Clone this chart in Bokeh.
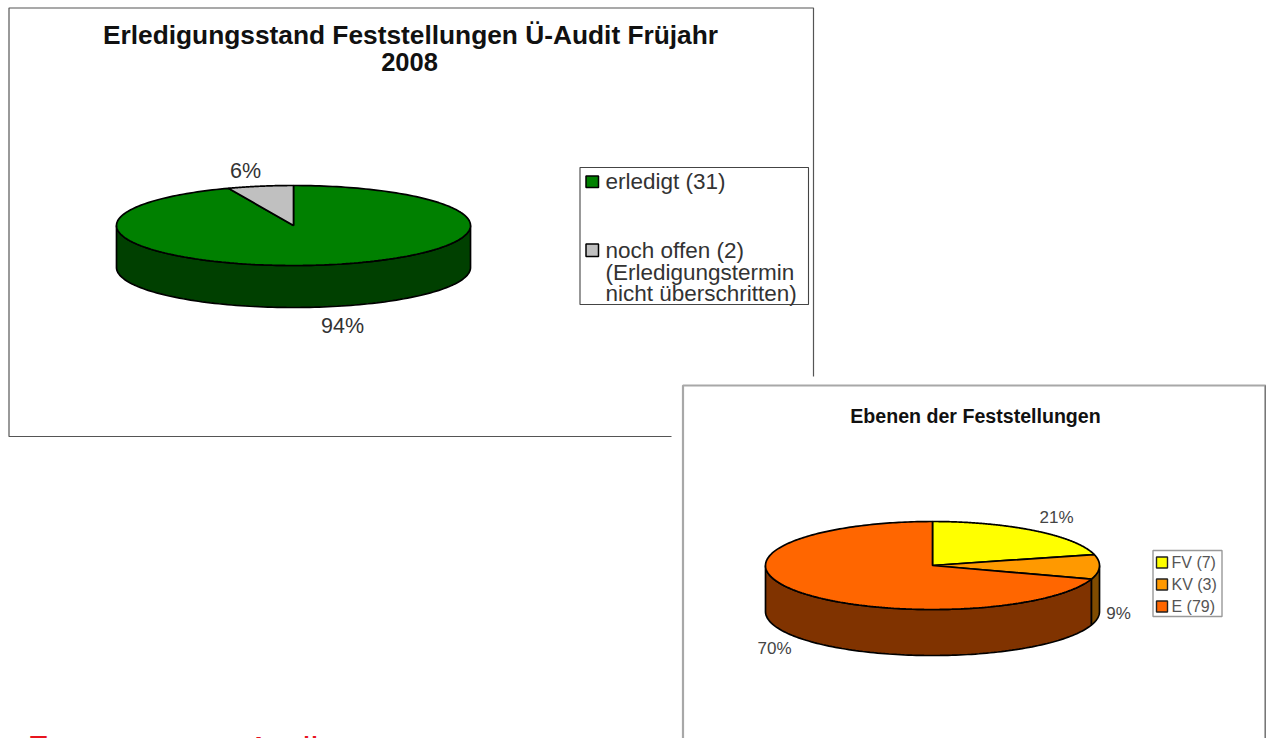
from bokeh.plotting import figure
from bokeh.models import Range1d
from bokeh.core.properties import value
from bokeh.embed import file_html
from bokeh.resources import INLINE
import numpy as np

# ---- data ----
status_labels = ["erledigt (31)", "noch offen  (2)"]
status_percent = [94, 6]
status_colors = ["#008000", "#C0C0C0"]
status_side = ["#004000", "#606060"]

level_labels = ["FV (7)", "KV (3)", "E (79)"]
level_percent = [21, 9, 70]
level_colors = ["#FFFF00", "#FF9900", "#FF6600"]
level_side = ["#808000", "#804C00", "#803300"]

FONT = value("Liberation Sans")
W, H = 1266, 738
p = figure(width=W, height=H, output_backend="svg", toolbar_location=None,
           x_range=Range1d(0, W), y_range=Range1d(H, 0),
           x_axis_location=None, y_axis_location=None, min_border=0,
           outline_line_color=None, background_fill_color="white",
           border_fill_color="white")
p.grid.visible = False


def rect(x0, y0, x1, y1, fill="white", line="#555555", lw=1.0):
    p.patch([x0, x1, x1, x0], [y0, y0, y1, y1], fill_color=fill,
            line_color=line, line_width=lw)


def label(x, y, s, size, align="left", bold=False, color="#222222", baseline="middle"):
    p.text([x], [y], text=[s], text_font=FONT, text_font_size=f"{size}px",
           text_align=align, text_baseline=baseline, text_color=color,
           text_font_style="bold" if bold else "normal")


def pie3d(cx, cy, rx, ry, depth, percents, colors, sides, lw):
    """Clockwise pie from 12 o'clock with a visible front rim."""
    total = sum(percents)
    start = 0.0
    wedges = []
    for pct, c, s in zip(percents, colors, sides):
        end = start + pct / total * 2 * np.pi
        wedges.append((start, end, c, s))
        start = end
    for a0, a1, c, s in wedges:
        lo, hi = max(a0, np.pi / 2), min(a1, 3 * np.pi / 2)
        if hi > lo:
            t = np.linspace(lo, hi, 120)
            xs = cx + rx * np.sin(t)
            ys = cy - ry * np.cos(t)
            p.patch(np.r_[xs, xs[::-1]], np.r_[ys, ys[::-1] + depth],
                    fill_color=s, line_color="black", line_width=lw)
    for a0, a1, c, s in wedges:
        t = np.linspace(a0, a1, 240)
        p.patch(np.r_[cx, cx + rx * np.sin(t)], np.r_[cy, cy - ry * np.cos(t)],
                fill_color=c, line_color="black", line_width=lw)


# ---- first panel ----
rect(8.5, 7.5, 813, 436, line="#555555", lw=1.2)
label(410, 34, "Erledigungsstand Feststellungen Ü-Audit Früjahr", 26.3, "center", True, "#111111")
label(409, 61, "2008", 25.5, "center", True, "#111111")
pie3d(293, 225, 177, 40, 42, status_percent, status_colors, status_side, 1.7)
label(245, 170, f"{status_percent[1]}%", 21.5, "center", color="#333333")
label(342, 325, f"{status_percent[0]}%", 21.5, "center", color="#333333")

rect(579.5, 167, 808, 304, line="#444444", lw=1.1)
rect(585.5, 175.5, 598, 187, fill=status_colors[0], line="black", lw=1.5)
rect(585.5, 243.5, 598, 256, fill=status_colors[1], line="black", lw=1.5)
label(605, 181, status_labels[0], 22.5, color="#333333")
label(605, 250, status_labels[1], 22.5, color="#333333")
label(605, 272, "(Erledigungstermin", 22.5, color="#333333")
label(605, 293, "nicht überschritten)", 22.5, color="#333333")

# ---- bottom text of the page beneath (only its tops show) ----
label(28, 735, "7.", 36, color="#E8141E", baseline="top")
label(246, 729, "Audit", 36, color="#E8141E", baseline="top")

# ---- second panel, on top of the first ----
rect(671, 376, 1266, 738, fill="white", line=None)
rect(682.5, 385, 1265, 760, fill="white", line="#A8A8A8", lw=2.2)
p.line([1265, 1265], [385, 738], line_color="#777777", line_width=1.6)
label(975, 415, "Ebenen der Feststellungen", 19.6, "center", True, "#111111")
pie3d(932, 565, 167, 44, 46, level_percent, level_colors, level_side, 1.7)
label(1056, 517, f"{level_percent[0]}%", 17, "center", False, "#444444")
label(1118, 613, f"{level_percent[1]}%", 17, "center", False, "#444444")
label(774, 648, f"{level_percent[2]}%", 17, "center", False, "#444444")

rect(1152.5, 550, 1221.5, 616, line="#999999", lw=1.4)
for yy, lab, col in zip([562, 584, 606], level_labels, level_colors):
    rect(1156, yy - 5.5, 1167, yy + 5.5, fill=col, line="#222222", lw=1.4)
    label(1171, yy, lab, 16, color="#555555")

open("out.html", "w").write(file_html(p, INLINE))
